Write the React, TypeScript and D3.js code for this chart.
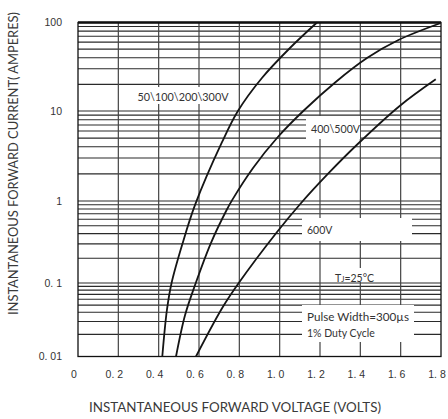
import React, { useEffect, useRef } from "react";
import * as d3 from "d3";

// axis ticks
const voltTicks = [0, 0.2, 0.4, 0.6, 0.8, 1.0, 1.2, 1.4, 1.6, 1.8];
const voltLabels = ["0", "0. 2", "0. 4", "0. 6", "0. 8", "1. 0", "1. 2", "1. 4", "1. 6", "1. 8"];
const ampDecades = [0.01, 0.1, 1, 10, 100];
const ampLabels = ["0. 01", "0. 1", "1", "10", "100"];

// 50\100\200\300V
const lowV = [0.418, 0.441, 0.464, 0.516, 0.58, 0.714, 0.793, 0.912, 1.051, 1.185];
const lowI = [0.01, 0.043, 0.1, 0.29, 0.89, 4.5, 10, 23.6, 51.5, 100];
// 400\500V
const midV = [0.486, 0.531, 0.584, 0.659, 0.737, 0.765, 0.868, 0.991, 1.117, 1.278, 1.433, 1.589, 1.796];
const midI = [0.01, 0.0367, 0.1, 0.307, 0.777, 1.03, 2.33, 5.14, 10, 21.3, 39.7, 63.4, 98];
// 600V
const highV = [0.585, 0.715, 0.797, 0.987, 1.102, 1.239, 1.382, 1.595, 1.774];
const highI = [0.01, 0.0457, 0.1, 0.419, 0.92, 2.0, 4.19, 11.4, 22.8];

export default function App() {
    const svgRef = useRef<SVGSVGElement>(null);

    useEffect(() => {
        const svg = d3.select(svgRef.current);
        svg.selectAll("*").remove();

        const x = d3.scaleLinear().domain([0, 1.8]).range([78, 441]);
        // scanned datasheet: decades are not all the same height
        const y = d3.scaleLog().domain(ampDecades).range([356.5, 283, 201, 111, 22.5]);

        const grid = svg.append("g");
        // horizontal minor/major lines
        const hLines: number[] = [];
        ampDecades.slice(0, -1).forEach((d) => {
            for (let k = 1; k <= 9; k++) hLines.push(d * k);
        });
        grid.selectAll(".h")
            .data(hLines)
            .join("line")
            .attr("x1", x(0)).attr("x2", x(1.8))
            .attr("y1", d => y(d)).attr("y2", d => y(d))
            .attr("stroke", "#2a2a2a")
            .attr("stroke-width", 1.1);
        grid.selectAll(".v")
            .data(voltTicks.slice(1, -1))
            .join("line")
            .attr("x1", d => x(d)).attr("x2", d => x(d))
            .attr("y1", y(100)).attr("y2", y(0.01))
            .attr("stroke", "#444")
            .attr("stroke-width", 1.2);

        // white boxes behind labels
        const boxes = [
            [135, 87, 97, 17],
            [306, 116, 54, 23],
            [302, 218, 110, 23],
            [327, 268, 50, 14],
            [302, 305, 112, 37],
        ];
        svg.append("g").selectAll("rect")
            .data(boxes)
            .join("rect")
            .attr("x", d => d[0]).attr("y", d => d[1])
            .attr("width", d => d[2]).attr("height", d => d[3])
            .attr("fill", "white");

        // frame
        svg.append("rect")
            .attr("x", x(0)).attr("y", y(100))
            .attr("width", x(1.8) - x(0)).attr("height", y(0.01) - y(100))
            .attr("fill", "none").attr("stroke", "#111").attr("stroke-width", 1.3);
        svg.append("line")
            .attr("x1", x(0)).attr("x2", x(1.8))
            .attr("y1", y(100)).attr("y2", y(100))
            .attr("stroke", "#111").attr("stroke-width", 2.4);

        // curves
        const line = d3.line<[number, number]>()
            .x(d => x(d[0]))
            .y(d => y(d[1]))
            .curve(d3.curveCatmullRom.alpha(0.5));
        const series = [
            d3.zip(lowV, lowI),
            d3.zip(midV, midI),
            d3.zip(highV, highI),
        ] as [number, number][][];
        svg.append("g").selectAll("path")
            .data(series)
            .join("path")
            .attr("d", d => line(d))
            .attr("fill", "none")
            .attr("stroke", "#151515")
            .attr("stroke-width", 1.8);

        // tick labels
        const tickFont = "'Liberation Sans', Arial, sans-serif";
        svg.append("g").selectAll("text")
            .data(voltTicks)
            .join("text")
            .attr("x", d => x(d) - 4)
            .attr("y", 378)
            .attr("text-anchor", "middle")
            .style("font-family", tickFont)
            .style("font-size", "10.5px")
            .attr("fill", "#333")
            .text((d, i) => voltLabels[i]);
        svg.append("g").selectAll("text")
            .data(ampDecades)
            .join("text")
            .attr("x", 62)
            .attr("y", d => y(d) + 1)
            .attr("text-anchor", "end")
            .attr("dominant-baseline", "middle")
            .style("font-family", tickFont)
            .style("font-size", "10.5px")
            .attr("fill", "#333")
            .text((d, i) => ampLabels[i]);

        // titles
        const titleFont = "Lato, 'Open Sans', sans-serif";
        svg.append("text")
            .attr("x", 235).attr("y", 411.5)
            .attr("text-anchor", "middle")
            .attr("textLength", 292)
            .attr("lengthAdjust", "spacingAndGlyphs")
            .style("font-family", titleFont)
            .style("font-size", "12.5px")
            .attr("fill", "#3a3a3a")
            .text("INSTANTANEOUS FORWARD VOLTAGE (VOLTS)");
        svg.append("text")
            .attr("transform", "translate(17.5,163.5) rotate(-90)")
            .attr("text-anchor", "middle")
            .attr("textLength", 303)
            .attr("lengthAdjust", "spacingAndGlyphs")
            .style("font-family", titleFont)
            .style("font-size", "12.5px")
            .attr("fill", "#3a3a3a")
            .text("INSTANTANEOUS FORWARD CURRENT( AMPERES)");

        // in-plot notes
        const notes = svg.append("g")
            .style("font-family", titleFont)
            .style("font-size", "10.5px")
            .attr("fill", "#333");
        notes.append("text").attr("x", 183).attr("y", 100.5).attr("text-anchor", "middle")
            .attr("textLength", 91).attr("lengthAdjust", "spacingAndGlyphs")
            .text("50\\100\\200\\300V");
        notes.append("text").attr("x", 335.5).attr("y", 133).attr("text-anchor", "middle")
            .attr("textLength", 49).attr("lengthAdjust", "spacingAndGlyphs")
            .text("400\\500V");
        notes.append("text").attr("x", 307).attr("y", 233.5)
            .text("600V");
        const tj = notes.append("text").attr("x", 335).attr("y", 281.5);
        tj.append("tspan").text("T");
        tj.append("tspan").style("font-size", "7.5px").text("J");
        tj.append("tspan").text("=25°C");
        notes.append("text").attr("x", 307).attr("y", 321)
            .attr("textLength", 102).attr("lengthAdjust", "spacingAndGlyphs")
            .text("Pulse Width=300µs");
        notes.append("text").attr("x", 307).attr("y", 336.5)
            .text("1% Duty Cycle");
    }, []);

    return (
        <svg
            ref={svgRef}
            width={448}
            height={419}
            style={{ position: "absolute", left: 0, top: 0, background: "white" }}
        />
    );
}
